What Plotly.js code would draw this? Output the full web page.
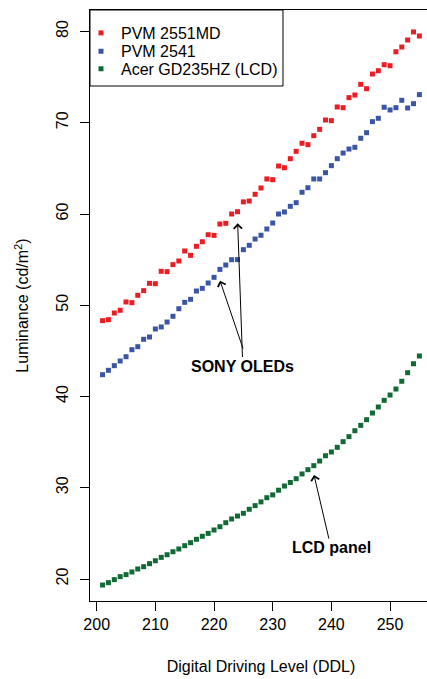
<!DOCTYPE html>
<html>
<head>
<meta charset="utf-8">
<script src="https://cdn.plot.ly/plotly-3.0.1.min.js"></script>
<style>
html, body { margin:0; padding:0; overflow:hidden; background:#fff; }
#chart { width:432px; height:679px; }
</style>
</head>
<body>
<div id="chart"></div>
<script>
var ddl = [201,202,203,204,205,206,207,208,209,210,211,212,213,214,215,216,217,218,219,220,
           221,222,223,224,225,226,227,228,229,230,231,232,233,234,235,236,237,238,239,240,
           241,242,243,244,245,246,247,248,249,250,251,252,253,254,255];
var pvm2551md = [48.31,48.42,49.15,49.45,50.36,50.28,51.09,51.60,52.40,52.36,53.72,53.68,54.45,54.85,55.95,55.47,56.46,56.96,57.73,57.66,
                 58.90,58.98,60.00,60.25,61.33,61.42,62.16,62.85,63.84,63.76,65.26,65.07,66.06,66.87,67.75,67.60,68.58,69.28,70.30,70.23,
                 71.73,71.65,72.75,73.04,74.21,73.73,75.34,75.70,76.36,76.25,77.78,78.30,79.07,79.95,79.51];
var pvm2541 = [42.39,42.87,43.38,43.89,44.36,45.13,45.46,46.27,46.52,47.40,47.62,48.16,48.79,49.62,50.32,50.65,51.56,51.85,52.44,53.06,
               53.93,54.41,54.99,55.00,56.09,56.57,57.26,57.67,58.36,59.01,60.00,60.22,60.84,61.24,62.38,62.88,63.84,63.84,64.53,65.30,
               66.06,66.68,67.12,67.31,68.30,68.91,70.12,70.49,71.70,71.40,71.65,72.46,71.62,72.09,73.08];
var acerLCD = [19.34,19.60,19.93,20.26,20.48,20.77,21.10,21.35,21.68,22.00,22.37,22.66,22.99,23.29,23.65,23.98,24.35,24.68,25.00,25.37,
               25.73,26.17,26.58,26.90,27.20,27.64,28.04,28.45,28.91,29.22,29.73,30.19,30.58,30.99,31.51,31.98,32.42,32.93,33.51,33.92,
               34.43,35.05,35.60,36.25,36.84,37.46,38.19,38.85,39.58,40.16,40.82,41.67,42.61,43.59,44.44];
var seriesNames = ['PVM 2551MD', 'PVM 2541', 'Acer GD235HZ (LCD)'];
var xTicks = [200,210,220,230,240,250];
var yTicks = [20,30,40,50,60,70,80];

var colors = ['#ec1c24', '#3a55a6', '#116a36'];
var legendIds = ['legend', 'legend2', 'legend3'];
var ys = [pvm2551md, pvm2541, acerLCD];
var traces = ys.map(function(y, i){
  return {
    x: ddl, y: y, name: seriesNames[i], type: 'scatter', mode: 'markers', legend: legendIds[i],
    marker: {symbol: 'square', size: 5, color: colors[i], line: {width: 0}}
  };
});

var font = {family: 'Liberation Sans, Arial, Helvetica, sans-serif', size: 16, color: '#000'};

function legendAt(yFrac){
  return {x: -0.0263, y: yFrac, xanchor: 'left', yanchor: 'middle', borderwidth: 0,
          bgcolor: 'rgba(0,0,0,0)', font: font};
}

var layout = {
  width: 432, height: 679,
  margin: {l: 90, r: 0, t: 10, b: 78},
  paper_bgcolor: '#fff', plot_bgcolor: '#fff',
  font: font,
  showlegend: true,
  legend: legendAt(0.9611),
  legend2: legendAt(0.9301),
  legend3: legendAt(0.9005),
  shapes: [
    {type: 'rect', xref: 'paper', yref: 'paper', x0: 0, x1: 0.5643, y0: 0.8714, y1: 1,
     line: {color: '#000', width: 1}, fillcolor: 'rgba(0,0,0,0)', layer: 'above'}
  ],
  xaxis: {
    range: [198.858, 257.15], tickvals: xTicks, ticktext: xTicks.map(String),
    showgrid: false, zeroline: false, showline: true, linecolor: '#000', linewidth: 1, mirror: true,
    ticks: 'outside', ticklen: 9, tickcolor: '#000', tickwidth: 1,
    tickfont: font,
    title: {text: 'Digital Driving Level (DDL)', font: font, standoff: 28}
  },
  yaxis: {
    range: [17.589, 82.356], tickvals: yTicks, ticktext: yTicks.map(String),
    showgrid: false, zeroline: false, showline: true, linecolor: '#000', linewidth: 1, mirror: true,
    ticks: 'outside', ticklen: 9, tickcolor: '#000', tickwidth: 1,
    tickangle: -90, tickfont: font, ticklabelstandoff: 6,
    title: {text: 'Luminance (cd/m<sup>2</sup>)', font: font, standoff: 20}
  },
  annotations: [
    {x: 221.02, y: 52.69, xref: 'x', yref: 'y', text: '', showarrow: true, arrowhead: 4, arrowsize: 1.6,
     arrowwidth: 1, arrowcolor: '#000', ax: 23.5, ay: 69.3, standoff: 0},
    {x: 224.03, y: 58.98, xref: 'x', yref: 'y', text: '<b>SONY OLEDs</b>', showarrow: true, arrowhead: 4,
     arrowsize: 1.6, arrowwidth: 1, arrowcolor: '#000', ax: 5.1, ay: 142.7, standoff: 0,
     font: font, xanchor: 'center', yanchor: 'middle', borderpad: 0},
    {x: 237.04, y: 31.40, xref: 'x', yref: 'y', text: '<b>LCD panel</b>', showarrow: true, arrowhead: 4,
     arrowsize: 1.6, arrowwidth: 1, arrowcolor: '#000', ax: 17, ay: 72.7, standoff: 0,
     font: font, xanchor: 'center', yanchor: 'middle', borderpad: 0}
  ]
};

Plotly.newPlot('chart', traces, layout, {displayModeBar: false, staticPlot: true});
</script>
</body>
</html>
